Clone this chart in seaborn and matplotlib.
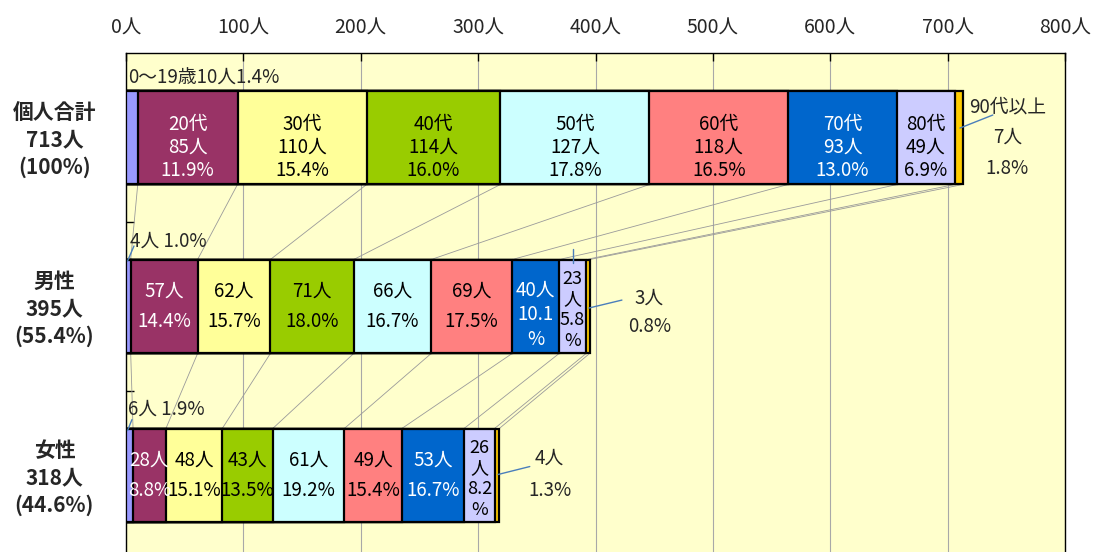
import numpy as np
import seaborn as sns
import matplotlib.pyplot as plt

# data
cats = ['個人合計', '男性', '女性']
cat_labels = ['個人合計\n713人\n(100%)', '男性\n395人\n(55.4%)', '女性\n318人\n(44.6%)']
ages = ['0〜19歳', '20代', '30代', '40代', '50代', '60代', '70代', '80代', '90代以上']
total = [10, 85, 110, 114, 127, 118, 93, 49, 7]
male = [4, 57, 62, 71, 66, 69, 40, 23, 3]
female = [6, 28, 48, 43, 61, 49, 53, 26, 4]
total_pct = [1.4, 11.9, 15.4, 16.0, 17.8, 16.5, 13.0, 6.9, 1.8]
male_pct = [1.0, 14.4, 15.7, 18.0, 16.7, 17.5, 10.1, 5.8, 0.8]
female_pct = [1.9, 8.8, 15.1, 13.5, 19.2, 15.4, 16.7, 8.2, 1.3]
colors = ['#9999FF', '#993366', '#FFFF99', '#99CC00', '#CCFFFF',
          '#FF8080', '#0066CC', '#CCCCFF', '#FFCC00']
xticks = list(range(0, 801, 100))
xtick_labels = [f'{v}人' for v in xticks]

sns.set_theme(style='white')
plt.rcParams['font.family'] = ['Noto Sans CJK JP', 'DejaVu Sans']

rows = [total, male, female]
cums = [np.cumsum(r) for r in rows]
bar_h = 0.556
fs = 13.5

fig = plt.figure(figsize=(10.93, 5.52), dpi=100)
ax = fig.add_axes([126 / 1093, -8 / 552, 939 / 1093, 507 / 552])
ax.set_facecolor('#FFFFCC')

# stacked bars: draw cumulative totals from the longest down
for i in range(len(ages) - 1, -1, -1):
    sns.barplot(x=[c[i] for c in cums], y=cats, orient='h', color=colors[i],
                saturation=1, width=bar_h, edgecolor='black', linewidth=1.6,
                ax=ax, zorder=3)

# series lines between the bars
for r in range(2):
    for i in range(len(ages)):
        ax.plot([cums[r][i], cums[r + 1][i]], [r + bar_h / 2, r + 1 - bar_h / 2],
                color='#9A9A9A', lw=0.6, zorder=2)

# in-bar labels
white = {1, 6}
for i in range(1, 8):
    xc = cums[0][i] - total[i] / 2
    ax.text(xc, 0.06, f'{ages[i]}\n{total[i]}人\n{total_pct[i]:.1f}%', ha='center',
            va='center', fontsize=fs, linespacing=1.12,
            color='white' if i in white else 'black', zorder=5)

for r, row, pct in [(1, male, male_pct), (2, female, female_pct)]:
    for i in range(1, 8):
        xc = cums[r][i] - row[i] / 2
        col = 'white' if i in white else 'black'
        size = fs
        if i == 7:
            txt, ls, dy, size = f'{row[i]}\n人\n{pct[i]}\n%', 1.2, 0.02, 13
        elif r == 1 and i == 6:
            txt, ls, dy = f'{row[i]}人\n{pct[i]}\n%', 1.25, 0.05
        else:
            txt, ls, dy = f'{row[i]}人\n{pct[i]:.1f}%', 1.55, 0.0
        ax.text(xc, r + dy, txt, ha='center', va='center', fontsize=size,
                linespacing=ls, color=col, zorder=5)

# outside labels with leader lines
lead = '#4A7EBB'
ax.text(1.5, -0.352, f'{ages[0]}{total[0]}人{total_pct[0]}%', ha='left', va='center',
        fontsize=fs, zorder=5)
ax.text(751, 0.0, f'{ages[8]}\n{total[8]}人\n{total_pct[8]}%', ha='center', va='center',
        fontsize=fs, linespacing=1.6, zorder=5)
ax.plot([710.5, 738.5], [-0.056, -0.133], color=lead, lw=1, zorder=6)

ax.text(3.4, 0.612, f'{male[0]}人 {male_pct[0]}%', ha='left', va='center',
        fontsize=fs, zorder=5)
ax.plot([1.3, 6.8], [0.731, 0.642], color=lead, lw=1, zorder=6)
ax.text(446, 1.036, f'{male[8]}人\n{male_pct[8]}%', ha='center', va='center',
        fontsize=fs, linespacing=1.45, zorder=5)
ax.plot([394.4, 422.5], [1.009, 0.962], color=lead, lw=1, zorder=6)
ax.plot([380.7, 380.7], [0.66, 0.745], color=lead, lw=1, zorder=6)

ax.text(1.7, 1.609, f'{female[0]}人 {female_pct[0]}%', ha='left', va='center',
        fontsize=fs, zorder=5)
ax.plot([1.3, 5.1], [1.734, 1.669], color=lead, lw=1, zorder=6)
ax.text(361, 1.994, f'{female[8]}人\n{female_pct[8]}%', ha='center', va='center',
        fontsize=fs, linespacing=1.7, zorder=5)
ax.plot([317, 344], [1.994, 1.947], color=lead, lw=1, zorder=6)

# category labels on the left
for r, lab in enumerate(cat_labels):
    ax.text(-61, r + 0.015, lab, ha='center', va='center', fontsize=15, fontweight='bold',
            linespacing=1.37, clip_on=False)

# axes
ax.set_xlim(0, 800)
ax.set_ylim(2.5, -0.5)
ax.xaxis.tick_top()
ax.set_xticks(xticks)
ax.set_xticklabels(xtick_labels)
ax.tick_params(axis='x', direction='in', length=6, width=1, color='black',
               pad=10, labelsize=14, top=True, bottom=False)
ax.set_yticks([0.5, 1.5])
ax.set_yticklabels([])
ax.tick_params(axis='y', direction='in', length=6, width=1, color='black', left=True)
ax.set_xlabel('')
ax.set_ylabel('')
ax.set_axisbelow(True)
ax.xaxis.grid(True, color='#A8A8A8', lw=0.8)
ax.yaxis.grid(False)
for s in ['top', 'left', 'right']:
    ax.spines[s].set_visible(True)
    ax.spines[s].set_color('black')
    ax.spines[s].set_linewidth(1)
ax.spines['bottom'].set_visible(False)

fig.savefig('out.png', dpi=100)
